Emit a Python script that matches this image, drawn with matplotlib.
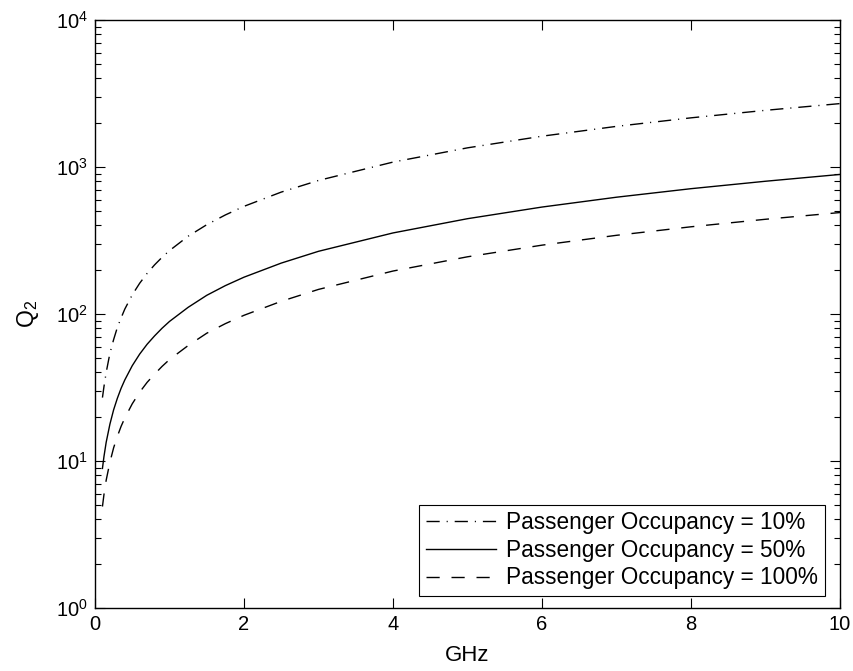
import matplotlib
matplotlib.use("Agg")
import matplotlib.pyplot as plt
from matplotlib.ticker import LogLocator, FixedLocator, NullFormatter

plt.rcParams['font.family'] = ['Liberation Sans', 'DejaVu Sans']
plt.rcParams['mathtext.fontset'] = 'custom'
plt.rcParams['mathtext.rm'] = 'Liberation Sans'
plt.rcParams['mathtext.it'] = 'Liberation Sans:italic'

# Frequency points (GHz)
freq_ghz = [0.1, 0.12, 0.15, 0.2, 0.25, 0.3, 0.35, 0.4, 0.5, 0.6, 0.7, 0.8,
            0.9, 1.0, 1.25, 1.5, 1.75, 2.0, 2.5, 3.0, 4.0, 5.0, 6.0, 7.0,
            8.0, 9.0, 10.0]
# Q2 values
q_10 = [27, 32, 40, 54, 67, 81, 94, 108, 135, 162, 189, 216,
        243, 270, 338, 405, 472, 540, 675, 810, 1080, 1350, 1620, 1890,
        2160, 2430, 2700]
q_50 = [8.9, 10.7, 13.4, 17.8, 22.3, 26.7, 31.2, 35.6, 44.5, 53.4, 62.3, 71,
        80, 89, 111, 134, 156, 178, 222, 267, 356, 445, 534, 623,
        712, 800, 890]
q_100 = [4.9, 5.9, 7.4, 9.8, 12.3, 14.7, 17.2, 19.6, 24.5, 29.4, 34.3, 39,
         44, 49, 61, 74, 86, 98, 122, 147, 196, 245, 294, 343,
         392, 441, 490]
labels = ['Passenger Occupancy = 10%', 'Passenger Occupancy = 50%',
          'Passenger Occupancy = 100%']
x_ticks = [0, 2, 4, 6, 8, 10]

fig = plt.figure(figsize=(8.54, 6.71), dpi=100)
ax = fig.add_axes([95/854, 1-608/671, (840-95)/854, (608-20)/671])

ax.plot(freq_ghz, q_10, color='black', lw=1.0, dashes=[9.5, 5, 0.8, 5], label=labels[0])
ax.plot(freq_ghz, q_50, color='black', lw=1.0, ls='-', label=labels[1])
ax.plot(freq_ghz, q_100, color='black', lw=1.0, dashes=[9.5, 8.5], label=labels[2])

ax.set_yscale('log')
ax.set_xlim(0, 10)
ax.set_ylim(1, 1e4)
ax.xaxis.set_major_locator(FixedLocator(x_ticks))
ax.yaxis.set_major_locator(LogLocator(base=10, numticks=10))
ax.yaxis.set_minor_locator(LogLocator(base=10, subs=range(2, 10), numticks=20))
ax.yaxis.set_minor_formatter(NullFormatter())

ax.tick_params(which='both', direction='in', top=True, right=True, labelsize=14.5,
               width=0.8)
ax.tick_params(which='major', length=7, pad=5)
ax.tick_params(which='minor', length=4)
for s in ax.spines.values():
    s.set_linewidth(1.0)

ax.set_xlabel('GHz', fontsize=16, labelpad=8)
ax.set_ylabel('Q$_2$', fontsize=16.5, labelpad=11)

leg = ax.legend(loc='lower right', bbox_to_anchor=(0.98, 0.02), fontsize=16.3,
                handlelength=3.1, fancybox=False, framealpha=1, edgecolor='black',
                borderaxespad=0.0, labelspacing=0.2, handletextpad=0.45,
                borderpad=0.3)
leg.get_frame().set_linewidth(0.8)

fig.savefig('out.png', dpi=100)
